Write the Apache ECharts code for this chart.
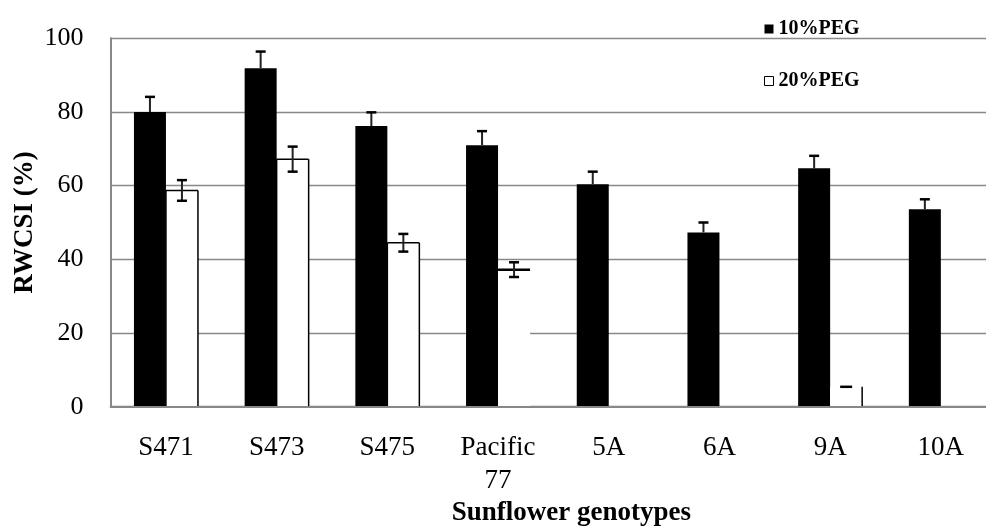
<!DOCTYPE html>
<html>
<head>
<meta charset="utf-8">
<script src="https://cdn.jsdelivr.net/npm/echarts@6/dist/echarts.min.js"></script>
<style>
  html, body { margin: 0; padding: 0; background: #fff; }
  #chart { width: 986px; height: 530px; }
</style>
</head>
<body>
<div id="chart"></div>
<script>
// Relative water content stress index of sunflower genotypes under PEG stress
const categories = ['S471', 'S473', 'S475', 'Pacific\n77', '5A', '6A', '9A', '10A'];
const yTicks = [0, 20, 40, 60, 80, 100];

const peg10 = [80.0, 91.9, 76.2, 71.0, 60.4, 47.3, 64.7, 53.6];
const peg10Err = [4.1, 4.5, 3.7, 3.8, 3.4, 2.7, 3.4, 2.7];

const peg20 = [58.7, 67.2, 44.5, 37.2, 0, 0, 5.4, 0];
const peg20Err = [2.8, 3.4, 2.4, 2.0, 0, 0, 0, 0];

// Which outline edges are drawn on each 20% PEG bar (l = left, t = top, r = right)
const peg20Outline = ['ltr', 'ltr', 'ltr', 't', '', '', 'r', ''];

const BAR_W = 32;
const SERIF = '"Liberation Serif", "Times New Roman", serif';

const chart = echarts.init(document.getElementById('chart'), null, { renderer: 'canvas' });

// Outline of the white bars, drawn edge by edge
function whiteOutline(params, api) {
  const i = api.value(0);
  const v = api.value(1);
  if (!(v > 0)) return null;
  const base = api.coord([i, 0]);
  const top = api.coord([i, v]);
  const x0 = base[0];
  const x1 = base[0] + BAR_W;
  const y0 = base[1];
  const y1 = top[1];
  const sides = peg20Outline[i];
  const children = [];
  const ls = { stroke: '#000', lineWidth: 1.5 };
  if (sides.includes('l')) children.push({ type: 'line', shape: { x1: x0, y1: y0, x2: x0, y2: y1 }, style: ls });
  if (sides.includes('t')) children.push({ type: 'line', shape: { x1: x0, y1: y1, x2: x1, y2: y1 }, style: { stroke: '#000', lineWidth: sides === 't' ? 2.5 : 1.5 } });
  if (sides.includes('r')) children.push({ type: 'line', shape: { x1: x1, y1: y0, x2: x1, y2: y1 }, style: ls });
  return { type: 'group', children };
}

function errorBar(offset, bothWays) {
  return function (params, api) {
    const i = api.value(0);
    const v = api.value(1);
    const e = api.value(2);
    if (!(v > 0)) return null;
    const c = api.coord([i, v]);
    const hi = api.coord([i, v + e]);
    const lo = api.coord([i, v - e]);
    const x = c[0] + offset;
    const cap = 5;
    const children = [];
    const stroke = { stroke: '#000', lineWidth: 2.5 };
    if (e > 0) {
      children.push({ type: 'line', shape: { x1: x, y1: bothWays ? lo[1] : c[1], x2: x, y2: hi[1] }, style: { stroke: '#222', lineWidth: 2 } });
      children.push({ type: 'line', shape: { x1: x - cap, y1: hi[1], x2: x + cap, y2: hi[1] }, style: stroke });
      if (bothWays) children.push({ type: 'line', shape: { x1: x - cap, y1: lo[1], x2: x + cap, y2: lo[1] }, style: stroke });
    } else {
      children.push({ type: 'line', shape: { x1: x - cap - 1, y1: c[1], x2: x + cap + 1, y2: c[1] }, style: stroke });
    }
    return { type: 'group', children };
  };
}

const option = {
  backgroundColor: '#fff',
  animation: false,
  textStyle: { fontFamily: SERIF, color: '#000' },
  grid: {
    left: 110.6, top: 38.3, width: 885.6, height: 368.4,
    containLabel: false,
    outerBoundsMode: 'none'
  },
  legend: {
    orient: 'vertical',
    left: 764,
    top: 19,
    padding: 0,
    itemWidth: 9,
    itemHeight: 9,
    itemGap: 32,
    icon: 'rect',
    textStyle: { fontFamily: SERIF, fontWeight: 'bold', fontSize: 20, color: '#000', lineHeight: 20 },
    data: [
      { name: '10%PEG', itemStyle: { color: '#000' } },
      { name: '20%PEG', itemStyle: { color: '#fff', borderColor: '#000', borderWidth: 1 } }
    ]
  },
  xAxis: {
    type: 'category',
    data: categories,
    z: 5,
    name: 'Sunflower genotypes',
    nameLocation: 'middle',
    nameGap: 93,
    nameMoveOverlap: false,
    nameTextStyle: { fontFamily: SERIF, fontWeight: 'bold', fontSize: 27, color: '#000', padding: [0, 0, 0, 36] },
    axisLine: { show: true, lineStyle: { color: '#888', width: 2 } },
    axisTick: { show: false },
    axisLabel: { interval: 0, margin: 25, fontFamily: SERIF, fontSize: 27, lineHeight: 33, color: '#000' },
    splitLine: { show: false }
  },
  yAxis: {
    type: 'value',
    min: yTicks[0],
    max: yTicks[yTicks.length - 1],
    interval: yTicks[1] - yTicks[0],
    name: 'RWCSI (%)',
    nameLocation: 'middle',
    nameGap: 72,
    nameMoveOverlap: false,
    nameRotate: 90,
    nameTextStyle: { fontFamily: SERIF, fontWeight: 'bold', fontSize: 27, color: '#000' },
    axisLine: { show: true, lineStyle: { color: '#888', width: 2 } },
    axisTick: { show: false },
    axisLabel: { margin: 27, fontFamily: SERIF, fontSize: 26, color: '#000' },
    splitLine: { show: true, lineStyle: { color: '#888', width: 1.3 } }
  },
  series: [
    {
      name: '10%PEG',
      type: 'bar',
      data: peg10,
      barWidth: BAR_W,
      barGap: '0%',
      itemStyle: { color: '#000' },
      z: 2
    },
    {
      name: '20%PEG',
      type: 'bar',
      data: peg20,
      barWidth: BAR_W,
      barGap: '0%',
      itemStyle: { color: '#fff' },
      z: 2
    },
    {
      name: 'outline20',
      type: 'custom',
      renderItem: whiteOutline,
      data: peg20.map((v, i) => [i, v]),
      z: 3
    },
    {
      name: 'err10',
      type: 'custom',
      renderItem: errorBar(-BAR_W / 2, false),
      data: peg10.map((v, i) => [i, v, peg10Err[i]]),
      z: 4
    },
    {
      name: 'err20',
      type: 'custom',
      renderItem: errorBar(BAR_W / 2, true),
      data: peg20.map((v, i) => [i, v, peg20Err[i]]),
      z: 4
    }
  ]
};

chart.setOption(option);
</script>
</body>
</html>
